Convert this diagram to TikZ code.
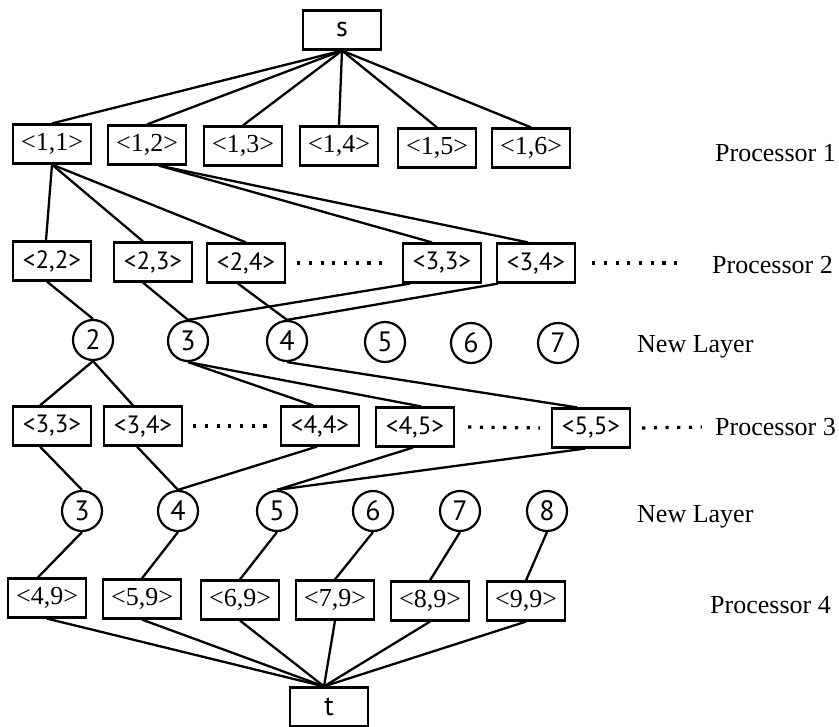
\documentclass[tikz,border=0pt]{standalone}
\usepackage{fontspec}
\setmainfont{Liberation Serif}
\newfontfamily\numfont{PT Sans}
\usetikzlibrary{calc}
\begin{document}
\begin{tikzpicture}[x=1pt,y=-1pt,
  every node/.style={inner sep=0pt},
  box/.style={draw,line width=2.2pt,minimum width=78pt,minimum height=39pt,
    font=\fontsize{26}{30}\selectfont},
  sbox/.style={box,font=\numfont\fontsize{25}{30}\selectfont},
  endbox/.style={box,font=\numfont\fontsize{28}{30}\selectfont},
  layer/.style={draw,circle,line width=2.2pt,minimum size=40pt,
    font=\numfont\fontsize{28}{30}\selectfont},
  edge/.style={line width=2.3pt},
  dots/.style={line width=3.2pt,dash pattern=on 3.2pt off 8.5pt},
  lbl/.style={anchor=west,font=\fontsize{26}{30}\selectfont}]
\useasboundingbox (0,0) rectangle (839,727);

% source
\node[endbox] (s) at (342,30) {s};

% processor 1
\node[box] (b11) at (52,144) {<1,1>};
\node[box] (b12) at (147,145) {<1,2>};
\node[box] (b13) at (243,146) {<1,3>};
\node[box] (b14) at (339,146) {<1,4>};
\node[box] (b15) at (437,148) {<1,5>};
\node[box] (b16) at (531,148) {<1,6>};

% processor 2
\node[sbox] (b22) at (52,261) {<2,2>};
\node[sbox] (b23) at (153,262) {<2,3>};
\node[sbox] (b24) at (246,263) {<2,4>};
\node[sbox] (b33) at (442,263) {<3,3>};
\node[sbox] (b34) at (536,263) {<3,4>};

% first new layer
\node[layer] (c2) at (93,340) {2};
\node[layer] (c3) at (188,341) {3};
\node[layer] (c4) at (287,341) {4};
\node[layer] (c5) at (385,342) {5};
\node[layer] (c6) at (471,343) {6};
\node[layer] (c7) at (558,343) {7};

% processor 3
\node[sbox] (e33) at (52,426) {<3,3>};
\node[sbox] (e34) at (143,426) {<3,4>};
\node[sbox] (e44) at (320,426) {<4,4>};
\node[sbox] (e45) at (415,427) {<4,5>};
\node[sbox] (e55) at (591,428) {<5,5>};

% second new layer
\node[layer] (d3) at (82,511) {3};
\node[layer] (d4) at (178,511) {4};
\node[layer] (d5) at (277,511) {5};
\node[layer] (d6) at (373,511) {6};
\node[layer] (d7) at (460,511) {7};
\node[layer] (d8) at (547,511) {8};

% processor 4
\node[box] (f49) at (47,598) {<4,9>};
\node[box] (f59) at (142,599) {<5,9>};
\node[box] (f69) at (240,600) {<6,9>};
\node[box] (f79) at (335,600) {<7,9>};
\node[box] (f89) at (430,601) {<8,9>};
\node[box] (f99) at (526,601) {<9,9>};

% sink
\node[endbox] (t) at (329,707) {t};

% row labels
\node[lbl] (l1) at (715,153) {Processor 1};
\node[lbl] (l2) at (712,265) {Processor 2};
\node[lbl] (l3) at (637,347) {New Layer};
\node[lbl] (l4) at (715,427) {Processor 3};
\node[lbl] (l5) at (637,517) {New Layer};
\node[lbl] (l6) at (710,605) {Processor 4};

% free ends of the trailing dotted runs
\coordinate (p2end) at (677,263);
\coordinate (p3end) at (702,427);

% source to processor 1
\foreach \n in {b11,b12,b13,b14,b15,b16}
  \draw[edge] (s.south) -- (\n.north);

% processor 1 to processor 2
\draw[edge] (b11.south) -- ($(b22.north)+(-6,0)$);
\draw[edge] (b11.south) -- ($(b23.north)+(-10,0)$);
\draw[edge] (b11.south) -- (b24.north);
\draw[edge] ($(b12.south)+(12,0)$) -- ($(b33.north)+(-10,0)$);
\draw[edge] ($(b12.south)+(12,0)$) -- ($(b34.north)+(-8,0)$);

% processor 2 to first new layer
\draw[edge] ($(b22.south)+(-5,0)$) -- (c2.north);
\draw[edge] ($(b23.south)+(-10,0)$) -- (c3.north);
\draw[edge] ($(b24.south)+(-8,0)$) -- (c4.north);
\draw[edge] ($(b33.south)+(-32,0)$) -- (c3.north);
\draw[edge] ($(b34.south)+(-38,0)$) -- (c4.north);

% first new layer to processor 3
\draw[edge] (c2.south) -- ($(e33.north)+(-12,0)$);
\draw[edge] (c2.south) -- ($(e34.north)+(-10,0)$);
\draw[edge] (c3.south) -- ($(e44.north)+(-7,0)$);
\draw[edge] (c3.south) -- ($(e45.north)+(6,0)$);
\draw[edge] (c4.south) -- ($(e55.north)+(-14,0)$);

% processor 3 to second new layer
\draw[edge] ($(e33.south)+(-12,0)$) -- (d3.north);
\draw[edge] ($(e34.south)+(-6,0)$) -- (d4.north);
\draw[edge] ($(e44.south)+(-3,0)$) -- (d4.north);
\draw[edge] ($(e45.south)+(-2,0)$) -- (d5.north);
\draw[edge] ($(e55.south)+(-6,0)$) -- (d5.north);

% second new layer to processor 4
\draw[edge] (d3.south) -- ($(f49.north)+(-9,0)$);
\draw[edge] (d4.south) -- (f59.north);
\draw[edge] (d5.south) -- (f69.north);
\draw[edge] (d6.south) -- (f79.north);
\draw[edge] (d7.south) -- (f89.north);
\draw[edge] (d8.south) -- (f99.north);

% processor 4 to sink
\foreach \n in {f49,f59,f69,f79,f89,f99}
  \draw[edge] (\n.south) -- ($(t.north)+(-5,0)$);

% dotted runs
\draw[dots] ($(b24.east)+(11,0)$) -- ($(b33.west)+(-20,0)$);
\draw[dots] ($(b34.east)+(16,0)$) -- (p2end);
\draw[dots] ($(e34.east)+(10,0)$) -- ($(e44.west)+(-13,0)$);
\draw[dots] ($(e45.east)+(13,0)$) -- ($(e55.west)+(-11,0)$);
\draw[dots] ($(e55.east)+(11,0)$) -- (p3end);
\end{tikzpicture}
\end{document}
